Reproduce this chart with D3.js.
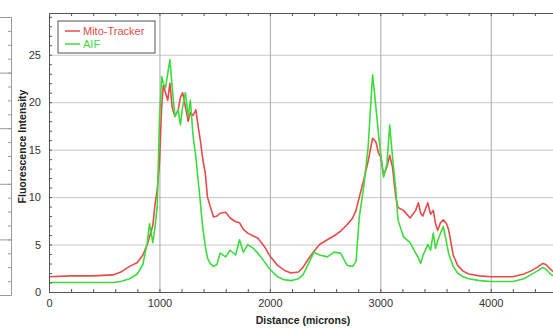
<!DOCTYPE html>
<meta charset="utf-8">
<style>
body { margin: 0; background: #fff; }
svg { display: block; font-family: "Liberation Sans", Arial, sans-serif; }
.grid line { stroke: #c8c8c8; stroke-width: 1px; }
.gridx line { stroke: #a8a8a8; stroke-width: 1px; }
.axis path, .axis line { stroke: #555; }
.axis text { fill: #333; font-size: 11px; }
.line { fill: none; stroke-width: 1.6px; stroke-linejoin: round; }
</style>
<body>
<script src="https://d3js.org/d3.v7.min.js"></script>
<script>

// data
var distance = [0, 200, 400, 580, 650, 730, 800, 850, 890, 910, 940, 960, 980, 1000, 1020, 1035, 1055, 1075, 1095, 1115,
  1140, 1170, 1190, 1210, 1235, 1260, 1280, 1305, 1330, 1350, 1370, 1390, 1415, 1435, 1460, 1490, 1520, 1550, 1600, 1640,
  1690, 1725, 1760, 1800, 1850, 1890, 1950, 2000, 2070, 2130, 2190, 2260, 2300, 2350, 2400, 2450, 2520, 2580, 2640, 2700,
  2750, 2780, 2810, 2850, 2890, 2930, 2960, 2985, 3005, 3030, 3060, 3085, 3110, 3140, 3160, 3210, 3270, 3320, 3345, 3365,
  3385, 3430, 3455, 3480, 3500, 3520, 3545, 3570, 3600, 3620, 3660, 3700, 3750, 3800, 3900, 4000, 4100, 4200, 4300, 4360,
  4420, 4470, 4500, 4540, 4580, 4600];

var mitoTracker = [1.6, 1.7, 1.7, 1.8, 2.1, 2.7, 3.1, 3.9, 5.0, 5.8, 7.0, 9.2, 10.8, 13.5, 19.5, 21.8, 21.0, 20.2, 22.0, 19.5,
  18.5, 19.2, 20.5, 21.0, 19.5, 18.0, 18.9, 18.6, 19.2, 17.5, 16.0, 14.2, 12.5, 10.0, 9.0, 7.9, 8.0, 8.3, 8.4, 7.8,
  7.4, 7.3, 6.6, 6.2, 5.9, 5.7, 4.8, 3.8, 2.8, 2.3, 2.0, 2.1, 2.6, 3.5, 4.3, 5.0, 5.5, 5.9, 6.4, 7.1,
  7.8, 8.6, 10.0, 11.8, 13.8, 16.2, 15.8, 14.6, 14.2, 12.3, 13.2, 14.4, 13.2, 10.0, 8.9, 8.6, 7.8, 8.6, 9.4, 8.3,
  8.0, 9.4, 8.2, 8.6, 7.2, 6.5, 7.3, 7.6, 7.2, 6.5, 3.9, 2.8, 2.2, 1.9, 1.7, 1.6, 1.6, 1.6, 1.9, 2.2,
  2.6, 3.0, 2.9, 2.4, 2.0, 1.9];

var aif = [1.0, 1.0, 1.0, 1.0, 1.1, 1.4, 1.9, 2.9, 5.2, 7.2, 5.2, 6.8, 9.0, 18.0, 22.7, 22.0, 21.5, 23.0, 24.5, 21.6,
  18.5, 19.2, 17.6, 19.5, 21.0, 18.5, 20.2, 16.4, 14.2, 11.8, 9.5, 7.0, 4.8, 3.6, 3.0, 2.7, 2.9, 4.1, 3.7, 4.4,
  3.9, 5.5, 4.2, 5.0, 4.6, 4.1, 3.2, 2.4, 1.6, 1.3, 1.2, 1.4, 1.8, 3.0, 4.2, 3.9, 3.7, 4.2, 4.1, 2.8,
  2.7, 3.2, 7.9, 11.1, 15.3, 22.9, 19.5, 16.5, 14.4, 12.1, 13.5, 17.6, 14.3, 10.8, 7.6, 5.8, 5.2, 4.1, 3.6, 3.0,
  3.8, 5.0, 4.4, 6.2, 4.6, 5.4, 6.2, 6.9, 5.2, 4.0, 2.7, 2.0, 1.6, 1.4, 1.2, 1.1, 1.1, 1.1, 1.4, 1.8,
  2.2, 2.6, 2.4, 1.9, 1.6, 1.5];

var seriesNames = ["Mito-Tracker", "AIF"];
var seriesColors = ["#e84a4a", "#3ddc3d"];
var xTicks = [0, 1000, 2000, 3000, 4000];
var yTicks = [0, 5, 10, 15, 20, 25];

var width = 553, height = 328;
var plot = {left: 49, top: 13, right: 557, bottom: 292};

var svg = d3.select("body").append("svg")
    .attr("width", width)
    .attr("height", height);

var x = d3.scaleLinear().domain([0, 4600]).range([plot.left, plot.right]);
var y = d3.scaleLinear().domain([0, 29.4]).range([plot.bottom, plot.top]);

// bit of the neighbouring panel on the left edge
var yl = d3.scaleLinear().domain([0, 25]).range([295, 17]);
svg.append("g")
    .attr("transform", "translate(11,0)")
    .call(d3.axisLeft(yl).tickValues(d3.range(0, 26, 1.25)).tickSize(3).tickFormat(""))
    .call(function(g) {
      g.selectAll("line").attr("stroke", "#9a9a9a");
      g.select(".domain").attr("stroke", "#9a9a9a");
    });
svg.append("g")
    .attr("transform", "translate(11,0)")
    .call(d3.axisLeft(yl).tickValues(d3.range(0, 26, 5)).tickSize(11).tickFormat(""))
    .call(function(g) {
      g.selectAll("line").attr("stroke", "#9a9a9a");
      g.select(".domain").remove();
    });

// grid
svg.append("g")
    .attr("class", "grid")
    .selectAll("line")
    .data(yTicks.slice(1))
  .enter().append("line")
    .attr("x1", plot.left).attr("x2", plot.right)
    .attr("y1", function(d) { return y(d) + 0.5; })
    .attr("y2", function(d) { return y(d) + 0.5; });

svg.append("g")
    .attr("class", "gridx")
    .selectAll("line")
    .data(xTicks.slice(1))
  .enter().append("line")
    .attr("x1", function(d) { return x(d) + 0.5; })
    .attr("x2", function(d) { return x(d) + 0.5; })
    .attr("y1", plot.top).attr("y2", plot.bottom);

// lines
var line = d3.line()
    .x(function(d) { return x(d[0]); })
    .y(function(d) { return y(d[1]); });

[mitoTracker, aif].forEach(function(vals, i) {
  svg.append("path")
      .datum(distance.map(function(d, j) { return [d, vals[j]]; }))
      .attr("class", "line")
      .attr("stroke", seriesColors[i])
      .attr("d", line);
});

// axes, ticks pointing inwards
var xMinor = d3.range(0, 4601, 200);
var yMinor = d3.range(0, 30, 1);

svg.append("g")
    .attr("class", "axis")
    .attr("transform", "translate(0," + plot.bottom + ")")
    .call(d3.axisBottom(x).tickValues(xMinor).tickSize(-3).tickFormat(""));
svg.append("g")
    .attr("class", "axis")
    .attr("transform", "translate(0," + plot.bottom + ")")
    .call(d3.axisBottom(x).tickValues(xTicks).tickSize(0).tickPadding(7).tickFormat(d3.format("d")))
    .call(function(g) { g.select(".domain").remove(); });

svg.append("g")
    .attr("class", "axis")
    .attr("transform", "translate(0," + plot.top + ")")
    .call(d3.axisTop(x).tickValues(xMinor).tickSize(-3).tickFormat(""));

svg.append("g")
    .attr("class", "axis")
    .attr("transform", "translate(" + plot.left + ",0)")
    .call(d3.axisLeft(y).tickValues(yMinor).tickSize(-3).tickFormat(""));
svg.append("g")
    .attr("class", "axis")
    .attr("transform", "translate(" + plot.left + ",0)")
    .call(d3.axisLeft(y).tickValues(yTicks).tickSize(0).tickPadding(8))
    .call(function(g) { g.select(".domain").remove(); });

// axis titles
svg.append("text")
    .attr("transform", "translate(26," + ((plot.top + plot.bottom) / 2 - 6) + ") rotate(-90)")
    .attr("text-anchor", "middle")
    .style("font-size", "10.5px")
    .style("font-weight", "bold")
    .attr("fill", "#222")
    .text("Fluorescence Intensity");

svg.append("text")
    .attr("x", (plot.left + plot.right) / 2)
    .attr("y", 324)
    .attr("text-anchor", "middle")
    .style("font-size", "10.5px")
    .style("font-weight", "bold")
    .attr("fill", "#222")
    .text("Distance (microns)");

// legend
var legend = svg.append("g").attr("transform", "translate(58,21)");
legend.append("rect")
    .attr("width", 97).attr("height", 32)
    .attr("fill", "#fff")
    .attr("stroke", "#555");
seriesNames.forEach(function(name, i) {
  var row = legend.append("g").attr("transform", "translate(0," + (10 + i * 13) + ")");
  row.append("line")
      .attr("x1", 7).attr("x2", 22)
      .attr("stroke", seriesColors[i])
      .attr("stroke-width", 1.5);
  row.append("text")
      .attr("x", 25).attr("y", 4)
      .attr("fill", seriesColors[i])
      .style("font-size", "11px")
      .text(name);
});

</script>
</body>
